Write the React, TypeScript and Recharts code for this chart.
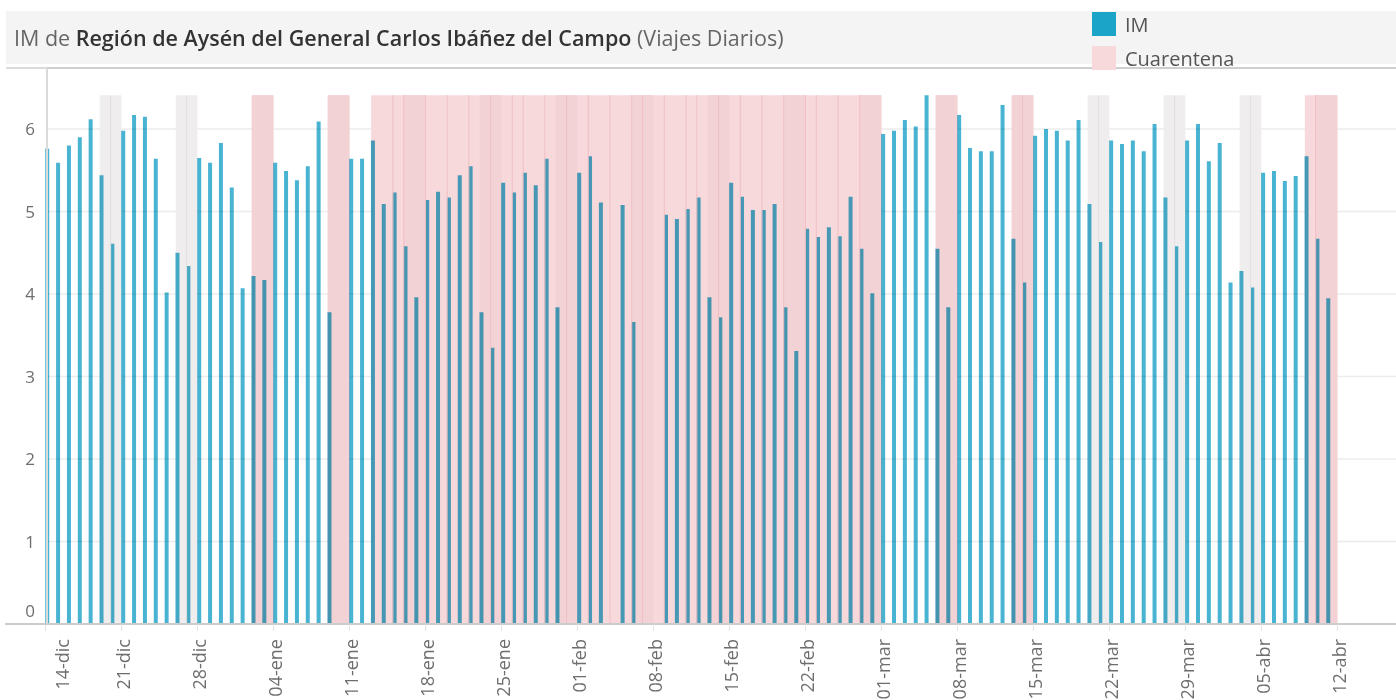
import { Bar, BarChart, CartesianGrid, ReferenceArea, ReferenceLine, XAxis, YAxis } from 'recharts'

// IM (viajes diarios), one value per day from 14-dic; null = no data that day
const decValues = [5.76, 5.59, 5.8, 5.9, 6.12, 5.44, 4.61, 5.98, 6.17, 6.15, 5.64, 4.02, 4.5, 4.34, 5.65, 5.59, 5.83, 5.29]
const eneValues = [
  4.07, 4.22, 4.17, 5.59, 5.49, 5.38, 5.55, 6.09, 3.78, null, 5.64, 5.64, 5.86, 5.09, 5.23, 4.58,
  3.96, 5.14, 5.24, 5.17, 5.44, 5.55, 3.78, 3.35, 5.35, 5.23, 5.47, 5.32, 5.64, 3.84, null,
]
const febValues = [
  5.47, 5.67, 5.11, null, 5.08, 3.66, null, null, 4.96, 4.91, 5.03, 5.17, 3.96, 3.72, 5.35, 5.18,
  5.02, 5.02, 5.09, 3.84, 3.31, 4.79, 4.69, 4.81, 4.7, 5.18, 4.55, 4.01,
]
const marValues = [
  5.94, 5.98, 6.11, 6.03, 6.41, 4.55, 3.84, 6.17, 5.77, 5.73, 5.73, 6.29, 4.67, 4.14, 5.92, 6.0,
  5.98, 5.86, 6.11, 5.09, 4.63, 5.86, 5.82, 5.86, 5.73, 6.06, 5.17, 4.58, 5.86, 6.06, 5.61,
]
const abrValues = [5.83, 4.14, 4.28, 4.08, 5.47, 5.49, 5.37, 5.43, 5.67, 4.67, 3.95]

// x-axis ticks (day index from 14-dic)
const tickDays = [0, 7, 14, 21, 28, 35, 42, 49, 56, 63, 70, 77, 84, 91, 98, 105, 112, 119]
const tickLabels = [
  '14-dic', '21-dic', '28-dic', '04-ene', '11-ene', '18-ene', '25-ene', '01-feb', '08-feb',
  '15-feb', '22-feb', '01-mar', '08-mar', '15-mar', '22-mar', '29-mar', '05-abr', '12-abr',
]
const yTicks = [0, 1, 2, 3, 4, 5, 6]

// weekends (sábado) and cuarentena periods, as day indexes
const weekendStarts = [5, 12, 19, 26, 33, 40, 47, 54, 61, 68, 75, 82, 89, 96, 103, 110, 117]
const quarantineStarts = [19, 26, 30, 82, 89, 116]
const quarantineEnds = [21, 28, 77, 84, 91, 119]
const quarantineSeams = [32, 33, 35, 37, 39, 41, 43, 44, 46, 48, 50, 52, 54, 55, 57, 59, 60, 62, 64, 66, 68, 70, 71, 73, 75, 90, 117]
const weekendSeams = [6, 13, 97, 104, 111]

const BAR = '#48b4d2'
const PINK = '#f7d8db'
const PINK_WEEKEND = '#f3d2d5'
const GRAY = '#efeded'
const TEXT = '#6e6e6e'
const FONT = '"Open Sans", "Noto Sans", sans-serif'
const DATE_SHIFT = -0.2 // tableau puts date boundaries just before the bar

const values = [...decValues, ...eneValues, ...febValues, ...marValues, ...abrValues]
const data = values
  .map((v, i) => ({ day: i, im: v }))
  .filter((r) => r.im !== null)
const bandTop = Math.max(...(values.filter((v) => v !== null) as number[]))

const inQuarantine = (s: number) =>
  quarantineStarts.some((a, i) => s >= a && s + 2 <= quarantineEnds[i])

const css = `
.blend .recharts-bar-rectangle .recharts-rectangle,
.blend .recharts-cartesian-grid-horizontal line { mix-blend-mode: multiply; }
`

function XTick(props: any) {
  const { x, y, payload, index } = props
  const i = tickDays.findIndex((d) => Math.abs(d + DATE_SHIFT - payload.value) < 0.01)
  const tx = x + 9 + (index === 0 ? 15 : 0)
  return (
    <text
      x={tx}
      y={y}
      transform={`rotate(-90 ${tx} ${y})`}
      textAnchor="end"
      fontSize={18}
      fill={TEXT}
      fontFamily={FONT}
    >
      {tickLabels[i]}
    </text>
  )
}

function YTick(props: any) {
  const { y, payload } = props
  const yy = payload.value === 0 ? y - 13 : y
  return (
    <text x={35} y={yy} dy={6} textAnchor="end" fontSize={17} fill={TEXT} fontFamily={FONT}>
      {payload.value}
    </text>
  )
}

export default function App() {
  return (
    <div
      className="blend"
      style={{ position: 'absolute', left: 0, top: 0, width: 1396, height: 700, background: '#fff', fontFamily: FONT }}
    >
      <style>{css}</style>

      {/* title band */}
      <div style={{ position: 'absolute', left: 6, top: 11, width: 1390, height: 53, background: '#f4f4f4' }} />
      <div
        style={{ position: 'absolute', left: 14, top: 23, fontSize: 21.5, lineHeight: '30px', color: '#666', whiteSpace: 'nowrap' }}
      >
        IM de <span style={{ color: '#333', fontWeight: 600 }}>Región de Aysén del General Carlos Ibáñez del Campo</span> (Viajes Diarios)
      </div>
      <div style={{ position: 'absolute', left: 6, top: 67, width: 1390, height: 2, background: '#dadada' }} />

      <BarChart
        width={1396}
        height={700}
        data={data}
        margin={{ top: 68, right: 0, bottom: 0, left: 0 }}
        style={{ position: 'absolute', left: 0, top: 0 }}
      >
        {weekendStarts
          .filter((s) => !inQuarantine(s))
          .map((s) => (
            <ReferenceArea
              key={'w' + s}
              x1={s + DATE_SHIFT}
              x2={s + 2 + DATE_SHIFT}
              y1={0}
              y2={bandTop}
              fill={GRAY}
              fillOpacity={1}
              stroke="none"
            />
          ))}
        {quarantineStarts.map((s, i) => (
          <ReferenceArea
            key={'q' + s}
            x1={s + DATE_SHIFT}
            x2={quarantineEnds[i] + DATE_SHIFT}
            y1={0}
            y2={bandTop}
            fill={PINK}
            fillOpacity={1}
            stroke="none"
          />
        ))}
        {weekendStarts.filter(inQuarantine).map((s) => (
          <ReferenceArea
            key={'wq' + s}
            x1={s + DATE_SHIFT}
            x2={s + 2 + DATE_SHIFT}
            y1={0}
            y2={bandTop}
            fill={PINK_WEEKEND}
            fillOpacity={1}
            stroke="none"
          />
        ))}
        {weekendSeams.map((d) => (
          <ReferenceLine
            key={'ws' + d}
            segment={[{ x: d + DATE_SHIFT, y: 0 }, { x: d + DATE_SHIFT, y: bandTop }]}
            stroke="#e4e0e0"
            strokeWidth={1}
          />
        ))}
        {quarantineSeams.map((d) => (
          <ReferenceLine
            key={'qs' + d}
            segment={[{ x: d + DATE_SHIFT, y: 0 }, { x: d + DATE_SHIFT, y: bandTop }]}
            stroke="#f0bfc3"
            strokeWidth={1}
          />
        ))}
        <CartesianGrid vertical={false} stroke="#ececec" strokeWidth={1.5} />
        <XAxis
          type="number"
          dataKey="day"
          domain={[-0.06, 124.2]}
          ticks={tickDays.map((d) => d + DATE_SHIFT)}
          interval={0}
          height={76}
          tick={<XTick />}
          tickSize={7}
          tickMargin={8}
          tickLine={{ stroke: '#e2e2e2' }}
          axisLine={{ stroke: '#cccccc', strokeWidth: 2 }}
        />
        <YAxis
          type="number"
          domain={[0, 6.74]}
          ticks={yTicks}
          interval={0}
          width={47}
          tick={<YTick />}
          tickLine={false}
          axisLine={{ stroke: '#dadada', strokeWidth: 2 }}
        />
        <Bar dataKey="im" fill={BAR} barSize={4} isAnimationActive={false} />
      </BarChart>

      {/* axis baseline continues under the y labels */}
      <div style={{ position: 'absolute', left: 5, top: 623, width: 44, height: 2, background: '#cccccc' }} />

      {/* legend */}
      <div style={{ position: 'absolute', left: 1092, top: 12, width: 24, height: 24, background: '#1ba3c8' }} />
      <div style={{ position: 'absolute', left: 1125, top: 11, fontSize: 20, lineHeight: '28px', color: '#555' }}>IM</div>
      <div style={{ position: 'absolute', left: 1092, top: 46, width: 24, height: 24, background: PINK }} />
      <div style={{ position: 'absolute', left: 1125, top: 45, fontSize: 20, lineHeight: '28px', color: '#555' }}>
        Cuarentena
      </div>
    </div>
  )
}
